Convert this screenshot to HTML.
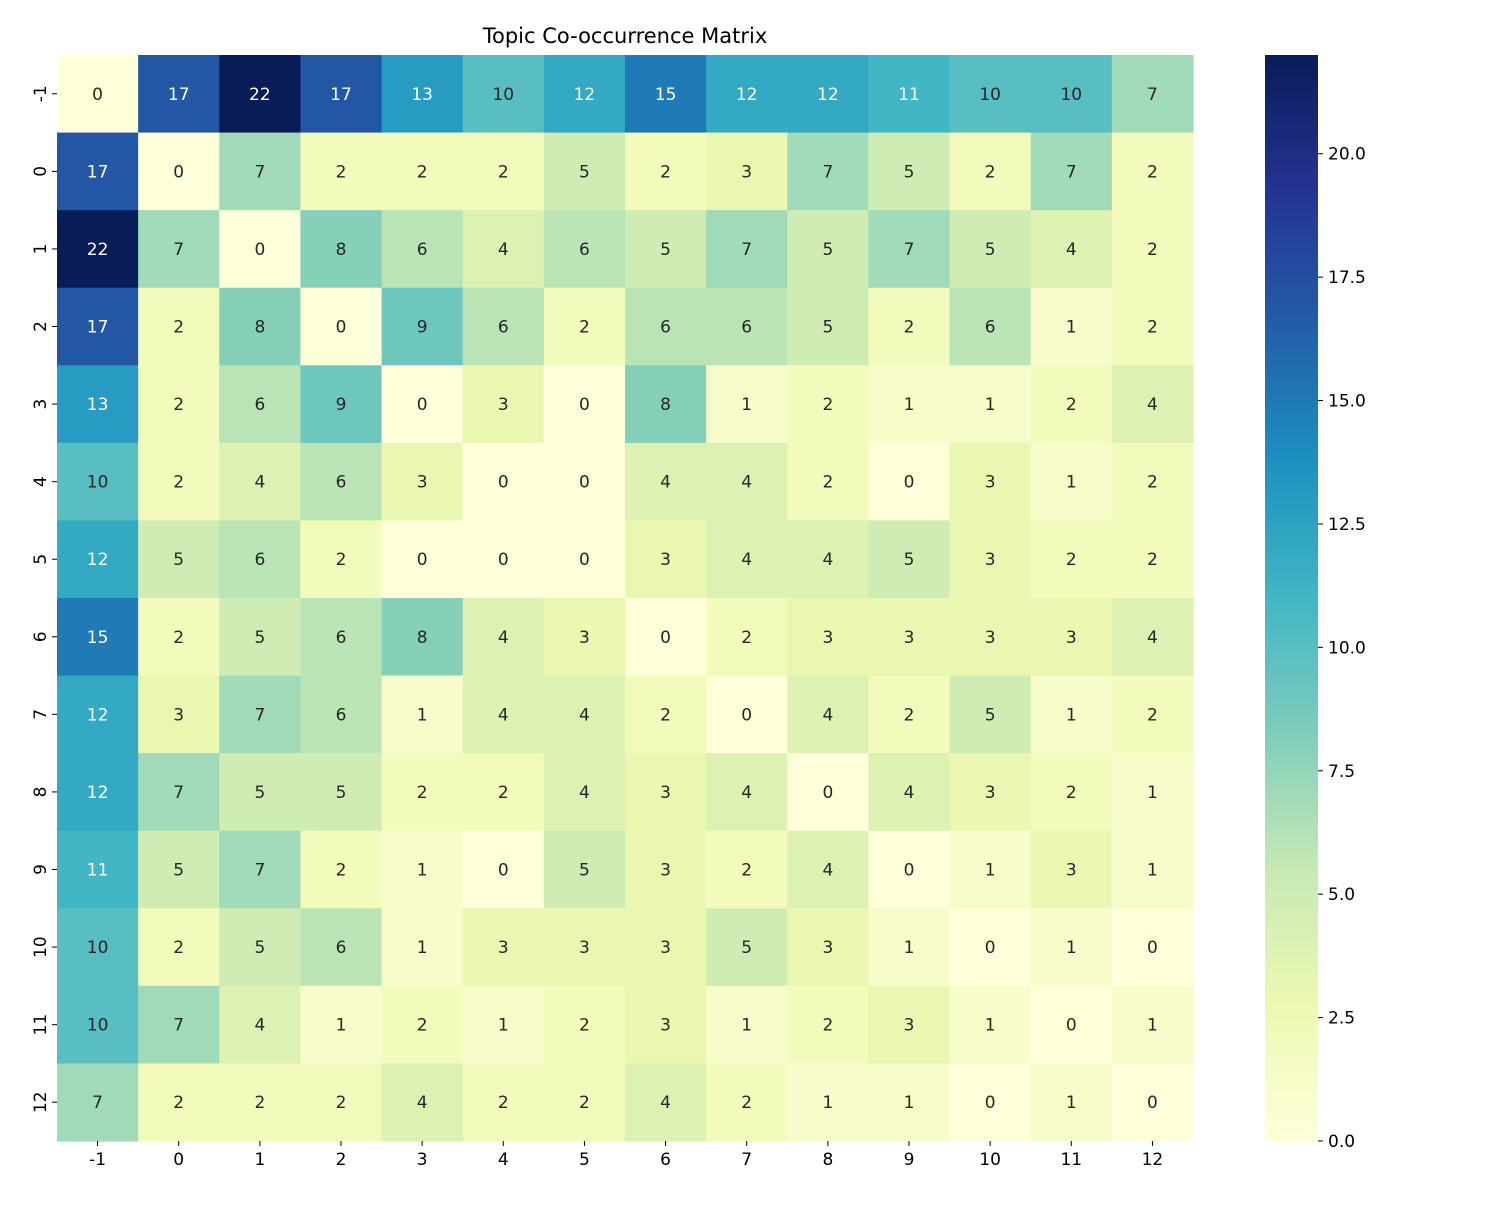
<!DOCTYPE html>
<html><head><meta charset="utf-8"><style>
body{margin:0;background:#fff;}
svg text{font-family:"DejaVu Sans","Liberation Sans",sans-serif;}
</style></head><body>
<svg id="chart" width="1500" height="1200" xmlns="http://www.w3.org/2000/svg">
<text x="625" y="43" font-size="21" text-anchor="middle" fill="#000">Topic Co-occurrence Matrix</text>
<g id="cells"></g>
<g id="xticks"></g>
<g id="yticks"></g>
<defs><linearGradient id="cbg" x1="0" y1="1" x2="0" y2="0">
<stop offset="0" stop-color="#ffffd9"/><stop offset="0.125" stop-color="#edf8b1"/><stop offset="0.25" stop-color="#c7e9b4"/><stop offset="0.375" stop-color="#7fcdbb"/><stop offset="0.5" stop-color="#41b6c4"/><stop offset="0.625" stop-color="#1d91c0"/><stop offset="0.75" stop-color="#225ea8"/><stop offset="0.875" stop-color="#253494"/><stop offset="1" stop-color="#081d58"/>
</linearGradient></defs>
<rect x="1265" y="55" width="53" height="1086" fill="url(#cbg)"/>
<g id="cbticks"></g>
</svg>
<script>
const labels=["-1","0","1","2","3","4","5","6","7","8","9","10","11","12"];
const row_m1=[0,17,22,17,13,10,12,15,12,12,11,10,10,7];
const row_0=[17,0,7,2,2,2,5,2,3,7,5,2,7,2];
const row_1=[22,7,0,8,6,4,6,5,7,5,7,5,4,2];
const row_2=[17,2,8,0,9,6,2,6,6,5,2,6,1,2];
const row_3=[13,2,6,9,0,3,0,8,1,2,1,1,2,4];
const row_4=[10,2,4,6,3,0,0,4,4,2,0,3,1,2];
const row_5=[12,5,6,2,0,0,0,3,4,4,5,3,2,2];
const row_6=[15,2,5,6,8,4,3,0,2,3,3,3,3,4];
const row_7=[12,3,7,6,1,4,4,2,0,4,2,5,1,2];
const row_8=[12,7,5,5,2,2,4,3,4,0,4,3,2,1];
const row_9=[11,5,7,2,1,0,5,3,2,4,0,1,3,1];
const row_10=[10,2,5,6,1,3,3,3,5,3,1,0,1,0];
const row_11=[10,7,4,1,2,1,2,3,1,2,3,1,0,1];
const row_12=[7,2,2,2,4,2,2,4,2,1,1,0,1,0];
const matrix=[row_m1,row_0,row_1,row_2,row_3,row_4,row_5,row_6,row_7,row_8,row_9,row_10,row_11,row_12];
const cbTicks=[0,2.5,5,7.5,10,12.5,15,17.5,20];
const vmax=22;
const stops=["#ffffd9","#edf8b1","#c7e9b4","#7fcdbb","#41b6c4","#1d91c0","#225ea8","#253494","#081d58"].map(h=>[1,3,5].map(i=>parseInt(h.substr(i,2),16)));
function cmap(t){t=Math.max(0,Math.min(1,t))*8;const i=Math.min(7,Math.floor(t)),f=t-i;return stops[i].map((c,k)=>Math.round(c+(stops[i+1][k]-c)*f));}
function lum(c){const l=c.map(v=>{v/=255;return v<=0.03928?v/12.92:Math.pow((v+0.055)/1.055,2.4)});return 0.2126*l[0]+0.7152*l[1]+0.0722*l[2];}
const X0=57,Y0=55,W=1136,H=1086,n=labels.length,cw=W/n,ch=H/n;
const xs=i=>X0+i*cw, ys=j=>Y0+j*ch, cby=v=>Y0+H-v/vmax*H;
const NS="http://www.w3.org/2000/svg";
function mk(tag,attrs,parent){const e=document.createElementNS(NS,tag);for(const k in attrs)e.setAttribute(k,attrs[k]);parent.appendChild(e);return e;}
const cells=document.getElementById('cells');
matrix.forEach((row,j)=>row.forEach((v,i)=>{
 const c=cmap(v/vmax);
 const r=mk('rect',{x:xs(i),y:ys(j),width:cw+0.6,height:ch+0.6,fill:`rgb(${c})`},cells);
 
 
 const t=mk('text',{x:xs(i)+cw/2,y:ys(j)+ch/2+6,'font-size':17,'text-anchor':'middle',fill:lum(c)>0.408?'#262626':'#ffffff'},cells);
 t.textContent=v;
 
 
}));
const xt=document.getElementById('xticks'),yt=document.getElementById('yticks');
labels.forEach((l,i)=>{
 mk('line',{x1:xs(i)+cw/2,x2:xs(i)+cw/2,y1:Y0+H,y2:Y0+H+5,stroke:'#000','stroke-width':1},xt);
 const t=mk('text',{x:xs(i)+cw/2,y:Y0+H+24,'font-size':17,'text-anchor':'middle'},xt);t.textContent=l;
 
 
 const cy=ys(i)+ch/2;
 mk('line',{x1:X0-5,x2:X0,y1:cy,y2:cy,stroke:'#000','stroke-width':1},yt);
 const u=mk('text',{x:X0-16,y:cy,'font-size':17,'text-anchor':'middle',transform:`rotate(-90 ${X0-16} ${cy})`,'dominant-baseline':'middle'},yt);u.textContent=l;
 
 
});
const cb=document.getElementById('cbticks');
cbTicks.forEach(v=>{const y=cby(v);
 mk('line',{x1:1318,x2:1323,y1:y,y2:y,stroke:'#000','stroke-width':1},cb);
 const t=mk('text',{x:1328,y:y+6,'font-size':17},cb);t.textContent=v.toFixed(1);
 
 
});
</script>
</body></html>
